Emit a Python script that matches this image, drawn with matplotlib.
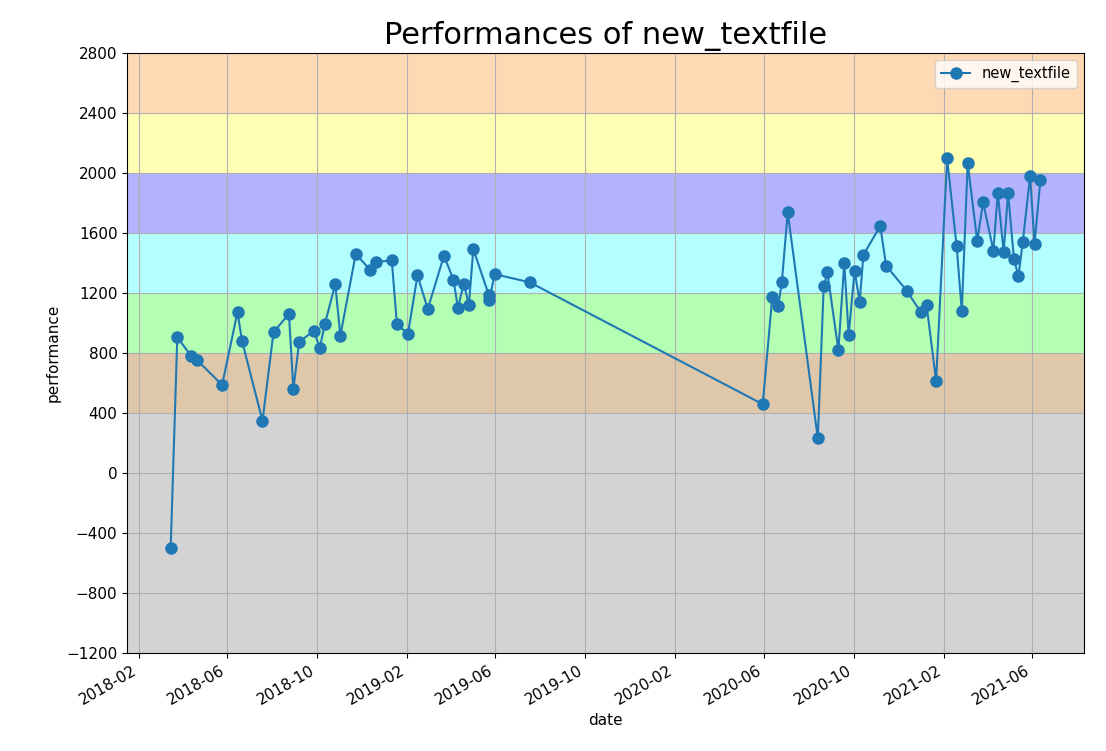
import numpy as np
import pandas as pd
import matplotlib
matplotlib.use("Agg")
import matplotlib.pyplot as plt
import matplotlib.dates as mdates

dates = [
    "2018-03-16", "2018-03-25", "2018-04-13", "2018-04-21", "2018-05-25", "2018-06-15",
    "2018-06-21", "2018-07-19", "2018-08-03", "2018-08-24", "2018-08-30", "2018-09-07",
    "2018-09-27", "2018-10-05", "2018-10-12", "2018-10-26", "2018-11-02", "2018-11-23",
    "2018-12-13", "2018-12-21", "2019-01-11", "2019-01-18", "2019-02-02", "2019-02-15",
    "2019-03-01", "2019-03-23", "2019-04-05", "2019-04-11", "2019-04-19", "2019-04-26",
    "2019-05-02", "2019-05-23", "2019-05-24", "2019-05-31", "2019-07-18",
    "2020-05-30", "2020-06-12", "2020-06-20", "2020-06-25", "2020-07-03", "2020-08-13",
    "2020-08-21", "2020-08-26", "2020-09-10", "2020-09-18", "2020-09-24", "2020-10-02",
    "2020-10-09", "2020-10-14", "2020-11-06", "2020-11-14", "2020-12-12", "2020-12-31",
    "2021-01-08", "2021-01-21", "2021-02-05", "2021-02-18", "2021-02-25", "2021-03-05",
    "2021-03-18", "2021-03-26", "2021-04-09", "2021-04-15", "2021-04-23", "2021-04-29",
    "2021-05-07", "2021-05-13", "2021-05-19", "2021-05-29", "2021-06-04", "2021-06-12",
]
performance = [
    -500, 905, 779, 752, 587, 1072,
    883, 348, 938, 1060, 558, 874,
    948, 834, 994, 1258, 916, 1460,
    1350, 1407, 1416, 991, 927, 1316,
    1093, 1447, 1288, 1100, 1260, 1122,
    1491, 1188, 1155, 1325, 1270,
    459, 1173, 1110, 1270, 1738, 231,
    1243, 1336, 819, 1398, 918, 1347,
    1140, 1453, 1645, 1381, 1215, 1073,
    1122, 613, 2095, 1509, 1078, 2062,
    1546, 1803, 1482, 1866, 1471, 1866,
    1427, 1310, 1538, 1980, 1526, 1951,
]

band_edges = [-1200, 400, 800, 1200, 1600, 2000, 2400, 2800]
band_colors = ["#d3d3d3", "#dfc8aa", "#b3ffb3", "#b3ffff", "#b3b3ff", "#ffffb3", "#ffd9b3"]

fig, ax = plt.subplots(figsize=(11.06, 7.51), dpi=100)
for lo, hi, c in zip(band_edges[:-1], band_edges[1:], band_colors):
    ax.axhspan(lo, hi, color=c, zorder=0, lw=0)

ax.plot(pd.to_datetime(dates), performance, "-o", color="#1f77b4", markersize=8,
        label="new_textfile", zorder=3)
ax.set_ylim(-1200, 2800)
ax.set_yticks(np.arange(-1200, 2801, 400))
ax.xaxis.set_major_locator(mdates.MonthLocator(bymonth=[2, 6, 10]))
ax.xaxis.set_major_formatter(mdates.DateFormatter("%Y-%m"))
ax.grid(True, color="#b0b0b0", zorder=1)
ax.set_xlabel("date", fontsize=11)
ax.set_ylabel("performance", fontsize=11)
ax.tick_params(labelsize=11)
ax.set_title("Performances of new_textfile", fontsize=22)
ax.legend(loc="upper right", fontsize=10.5)
fig.autofmt_xdate()
fig.subplots_adjust(left=0.115, right=0.98, top=0.93, bottom=0.13)
fig.savefig("out.png", dpi=100)
